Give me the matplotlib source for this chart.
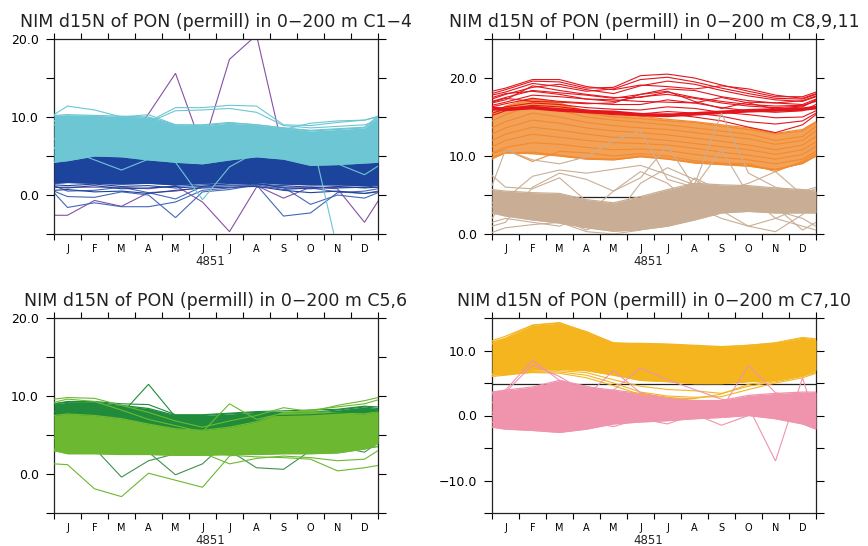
import matplotlib
matplotlib.use('Agg')
import matplotlib.pyplot as plt
import numpy as np

nan = np.nan

# x positions: left edge, twelve mid-month points, right edge
X_POS = [0.0, 0.5, 1.5, 2.5, 3.5, 4.5, 5.5, 6.5, 7.5, 8.5, 9.5, 10.5, 11.5, 12.0]
MONTHS = ['J', 'F', 'M', 'A', 'M', 'J', 'J', 'A', 'S', 'O', 'N', 'D']
YEAR = '4851'
TITLE = 'NIM d15N of PON (permill) in 0\u2212200 m '
GROUPS = ['C1\u22124', 'C8,9,11', 'C5,6', 'C7,10']
REF_LEVEL = 4.8

# ---- panel 1: C1-4 -------------------------------------------------------
cyan_top = [10.2, 10.3, 10.2, 10.1, 10.0, 9.0, 8.9, 9.2, 9.0, 8.6, 8.2, 8.4, 8.6, 10.0]
cyan_bot = [4.2, 4.4, 5.0, 4.9, 4.5, 4.2, 4.0, 4.5, 4.9, 4.6, 3.8, 3.9, 4.1, 4.2]
dblue_top = [5.0, 5.1, 5.5, 5.4, 5.1, 4.9, 4.7, 5.1, 5.4, 5.1, 4.5, 4.6, 4.8, 4.9]
dblue_bot = [1.5, 1.6, 1.5, 1.4, 1.5, 1.3, 1.5, 1.6, 1.6, 1.4, 1.3, 1.3, 1.2, 1.3]
dblue_lines = [
    [1.0, 0.9, 1.2, 0.8, 0.9, 1.1, 1.3, 1.4, 1.5, 0.9, 0.8, 1.1, 0.9, 1.0],
    [0.6, 0.7, 0.4, 0.5, 0.2, 0.6, 0.9, 1.0, 1.1, 0.6, 0.3, 0.5, 0.2, 0.4],
    [1.3, 1.2, 1.4, 1.1, 1.2, 0.9, 1.1, 1.5, 1.4, 1.2, 1.0, 0.9, 1.0, 1.2],
]
cyan_lines = [
    [10.3, 11.4, 10.9, 10.0, 10.3, 9.0, 9.0, 9.3, 9.0, 8.6, 8.3, 8.5, 8.7, 10.1],
    [9.5, 9.8, 10.0, 9.8, 9.4, 11.2, 11.2, 11.5, 11.4, 9.0, 8.9, 9.3, 9.6, 10.0],
    [9.5, 9.6, 9.8, 9.7, 9.3, 10.8, 10.9, 11.1, 10.6, 8.9, 8.6, 8.8, 9.0, 9.5],
    [9.0, 9.2, 9.3, 9.1, 9.0, 8.7, 8.6, 8.9, 8.8, 8.4, 9.2, 9.5, 9.6, 10.1],
    [6.0, 5.8, 4.5, 3.2, 4.6, 5.5, 5.5, 5.7, 5.8, 5.5, 5.3, 5.3, 5.5, 5.8],
    [6.0, 6.0, 6.0, 6.0, 6.0, 6.0, 6.0, 6.0, 6.0, 5.8, 4.5, 4.0, 2.6, 3.7],
    [6.0, 6.0, 6.0, 6.0, 6.0, 4.2, -0.6, 3.6, 5.5, 6.0, 6.0, 6.0, 6.0, 6.0],
    [7.2, 7.0, 7.1, 7.0, 6.9, 6.8, 6.9, 7.0, 7.2, 7.5, 8.0, -7.0, nan, nan],
]
mblue_lines = [
    [0.5, -0.2, -0.3, 0.4, 0.0, -2.9, 0.4, 0.7, 1.3, 0.7, 0.9, 0.4, 0.2, 0.5],
    [0.3, -1.6, -1.0, -1.5, -1.5, -0.9, 0.6, 0.9, 1.3, -2.7, -2.3, 0.3, 0.5, 0.8],
    [1.2, 0.5, 0.6, 1.0, 0.3, -0.5, 1.1, 1.2, 1.4, 1.0, -1.2, 0.0, -0.4, 0.3],
]
purple_lines = [
    [5.0, 5.0, 5.5, 6.0, 10.4, 15.6, 6.0, 5.5, 5.5, 5.5, 5.5, 5.5, 5.5, 5.5],
    [5.0, 5.0, 5.0, 5.0, 5.0, 5.0, 6.0, 17.4, 20.5, 5.5, 5.0, 5.0, 5.0, 5.0],
    [1.0, 1.0, 1.0, 1.0, 0.8, 1.2, -0.9, -4.7, 1.0, 1.0, 1.0, 1.0, 1.0, 1.0],
    [-2.6, -2.6, -0.7, -1.45, 0.3, 0.5, 1.0, 1.2, 1.2, -0.4, 1.0, 0.8, -3.5, -0.8],
]

# ---- panel 2: C8,9,11 ----------------------------------------------------
red_core = [16.1, 16.0, 16.2, 15.9, 15.7, 15.6, 15.3, 15.2, 15.4, 15.6, 15.8, 15.9, 16.0, 16.2]
red_lines = [
    [18.0, 18.5, 19.6, 19.5, 18.7, 18.8, 20.3, 20.5, 20.0, 19.1, 18.3, 17.6, 17.6, 18.2],
    [17.8, 18.2, 19.3, 18.9, 18.3, 18.6, 19.8, 20.1, 19.5, 18.7, 18.0, 17.4, 17.3, 17.9],
    [17.3, 17.9, 18.8, 19.2, 18.5, 18.0, 19.0, 19.6, 19.2, 18.4, 17.7, 17.2, 17.0, 17.6],
    [17.0, 17.5, 18.4, 18.1, 17.8, 17.4, 17.9, 18.6, 18.4, 17.6, 17.1, 16.8, 16.6, 17.3],
    [16.8, 17.2, 19.0, 18.4, 17.9, 17.5, 17.5, 18.2, 17.5, 17.0, 16.6, 16.4, 16.5, 17.0],
    [16.5, 16.9, 17.8, 17.6, 17.3, 17.0, 17.6, 17.9, 17.4, 16.8, 16.4, 16.2, 16.4, 17.1],
    [16.3, 16.7, 17.4, 17.0, 16.8, 16.6, 16.6, 17.2, 16.8, 16.2, 15.8, 15.6, 15.8, 16.6],
    [15.8, 16.3, 16.8, 16.6, 16.2, 16.0, 15.9, 16.3, 16.1, 15.6, 15.3, 14.9, 15.0, 15.8],
    [15.5, 16.0, 16.5, 16.3, 15.9, 15.5, 15.4, 15.7, 15.5, 15.1, 14.4, 14.1, 14.5, 15.5],
    [15.2, 15.8, 16.2, 16.0, 15.6, 15.3, 15.2, 15.4, 15.0, 14.5, 13.7, 13.0, 14.0, 15.3],
    [17.5, 18.0, 18.3, 17.9, 17.3, 17.2, 17.0, 16.9, 16.8, 17.5, 16.8, 16.0, 16.3, 17.2],
    [16.9, 17.4, 17.0, 16.9, 16.7, 16.8, 17.9, 18.3, 17.0, 16.1, 16.9, 16.8, 17.1, 17.7],
    [18.3, 18.7, 19.8, 19.8, 18.9, 18.5, 19.1, 18.9, 18.6, 19.0, 18.6, 17.8, 17.4, 18.0],
]
orange_top = [15.5, 16.4, 17.4, 16.8, 15.7, 15.3, 15.1, 14.7, 14.4, 14.0, 13.6, 12.9, 13.4, 14.4]
orange_bot = [9.8, 10.4, 10.3, 10.0, 9.6, 9.5, 9.9, 9.6, 9.1, 8.9, 8.7, 8.2, 9.1, 10.0]
orange_lines = [
    [15.4, 16.2, 17.3, 16.6, 15.5, 15.0, 14.8, 14.5, 14.3, 13.8, 13.4, 12.8, 13.2, 14.3],
    [14.5, 15.3, 16.5, 15.8, 15.0, 14.6, 14.3, 14.0, 13.6, 13.2, 12.8, 12.0, 12.5, 13.8],
    [13.6, 14.4, 15.5, 15.0, 14.3, 13.9, 13.6, 13.4, 13.0, 12.6, 12.2, 11.5, 12.0, 13.2],
    [12.8, 13.6, 14.6, 14.2, 13.6, 13.2, 13.0, 12.7, 12.3, 11.9, 11.4, 10.8, 11.4, 12.5],
    [12.0, 12.8, 13.7, 13.3, 12.8, 12.4, 12.3, 12.0, 11.6, 11.2, 10.8, 10.2, 10.8, 11.8],
    [11.2, 12.0, 12.8, 12.4, 12.0, 11.7, 11.6, 11.4, 11.0, 10.5, 10.1, 9.6, 10.2, 11.2],
    [10.4, 11.1, 11.7, 11.5, 11.1, 10.8, 10.9, 10.7, 10.2, 9.8, 9.5, 9.0, 9.6, 10.6],
    [9.6, 10.4, 10.5, 10.1, 9.7, 9.6, 10.0, 9.7, 9.2, 9.0, 8.8, 8.3, 9.0, 10.0],
    [10.3, 10.8, 9.3, 10.6, 10.4, 10.0, 10.3, 10.0, 9.4, 9.1, 9.0, 8.0, 9.3, 10.3],
]
tan_top = [5.7, 5.5, 5.3, 5.2, 4.4, 4.0, 4.8, 5.7, 6.5, 6.3, 6.2, 5.9, 5.7, 5.5]
tan_bot = [2.7, 2.3, 1.8, 1.4, 0.8, 0.35, 0.55, 1.0, 1.8, 2.7, 2.9, 2.7, 2.7, 2.7]
tan_lines = [
    [6.2, 10.8, 9.5, 9.0, 9.9, 12.0, 13.2, 7.0, 6.0, 5.0, 4.5, 4.0, 5.5, 6.0],
    [2.0, 4.5, 7.4, 8.2, 7.8, 8.3, 8.8, 7.6, 6.3, 15.5, 7.8, 6.0, 5.2, 5.8],
    [1.0, 1.5, 6.0, 7.8, 7.0, 5.5, 7.2, 11.3, 6.0, 10.8, 5.0, 2.0, 3.5, 4.0],
    [0.2, 0.8, 1.2, 1.5, 0.3, 0.0, 0.5, 3.5, 7.2, 5.5, 6.5, 8.0, 5.0, 3.0],
    [4.0, 4.5, 3.0, 2.0, 0.5, 2.0, 6.5, 8.5, 7.0, 5.0, 4.0, 3.5, 0.5, 1.5],
    [1.5, 2.0, 1.5, 1.0, 2.5, 5.5, 8.0, 6.5, 3.5, 2.0, 1.0, 0.3, 2.5, 4.0],
    [3.5, 3.0, 2.5, 2.0, 1.5, 1.0, 2.5, 4.0, 5.0, 3.0, 1.0, 2.0, 1.0, 0.5],
    [7.5, 6.0, 5.8, 7.2, 4.2, 3.5, 4.5, 5.5, 4.5, 4.0, 3.5, 3.0, 2.0, 1.0],
]

# ---- panel 3: C5,6 -------------------------------------------------------
dgreen_top = [9.0, 9.2, 9.2, 8.8, 8.4, 7.5, 7.5, 7.7, 7.9, 7.9, 7.9, 8.2, 8.6, 8.4]
dgreen_bot = [4.5, 4.5, 4.6, 4.8, 5.0, 5.2, 5.4, 5.0, 4.8, 4.6, 4.5, 4.4, 4.3, 4.3]
lgreen_top = [7.5, 7.7, 7.5, 7.1, 6.4, 5.8, 5.6, 6.0, 6.7, 7.9, 8.0, 7.8, 7.7, 8.0]
lgreen_bot = [3.0, 2.6, 2.6, 2.5, 2.5, 2.4, 2.4, 2.5, 2.5, 2.6, 2.6, 2.7, 3.2, 3.9]
lgreen_lines = [
    [9.6, 9.8, 9.7, 8.8, 7.9, 6.8, 6.0, 6.8, 7.5, 8.5, 8.0, 8.8, 9.4, 9.8],
    [9.2, 9.6, 9.3, 8.2, 7.0, 6.2, 5.4, 9.0, 7.0, 7.8, 8.2, 8.6, 9.0, 9.5],
    [1.3, 1.2, -1.9, -2.9, 0.1, -0.8, -1.7, 2.3, 3.0, 3.0, 3.0, 3.0, 3.2, 3.6],
    [3.0, 3.0, 2.9, 2.8, 2.8, 2.7, 2.7, 2.4, 2.2, 2.1, 1.9, 0.4, 0.8, 1.1],
    [3.2, 3.0, 2.8, 2.8, 2.7, 2.6, 2.7, 1.3, 2.0, 2.3, 2.1, 1.7, 1.9, 3.0],
]
dgreen_lines = [
    [9.0, 9.3, 9.3, 9.0, 8.9, 7.6, 7.6, 7.8, 8.0, 8.1, 8.2, 8.3, 8.7, 8.6],
    [8.0, 8.2, 8.0, 7.7, 11.5, 7.3, 7.0, 7.2, 7.5, 7.5, 7.6, 7.8, 8.0, 8.1],
]
mgreen_lines = [
    [3.5, 3.4, 3.3, -0.4, 1.7, 2.6, 2.8, 2.9, 3.0, 3.0, 3.0, 3.1, 3.3, 3.5],
    [4.0, 4.0, 3.8, 3.5, 2.8, -0.1, 1.3, 4.5, 4.0, 3.5, 3.5, 3.5, 3.8, 4.0],
    [4.0, 4.0, 4.0, 3.8, 3.5, 3.3, 3.2, 3.0, 0.8, 0.6, 3.0, 3.5, 2.8, 4.0],
]

# ---- panel 4: C7,10 ------------------------------------------------------
yellow_top = [11.3, 11.9, 13.9, 14.2, 12.9, 11.1, 11.1, 11.0, 10.8, 10.6, 10.8, 11.1, 11.9, 11.6]
yellow_bot = [6.4, 6.4, 7.0, 7.1, 6.9, 6.2, 5.4, 5.2, 4.9, 4.9, 5.2, 5.4, 6.2, 7.0]
yellow_lines = [
    [11.5, 12.2, 13.9, 14.3, 12.8, 11.2, 11.0, 10.9, 10.7, 10.5, 10.8, 11.2, 12.0, 11.8],
    [11.0, 11.8, 13.3, 13.6, 12.6, 11.0, 10.9, 10.8, 10.5, 10.4, 10.6, 11.0, 11.6, 11.5],
    [6.2, 6.3, 6.8, 6.9, 6.6, 5.5, 4.5, 4.0, 3.8, 3.4, 4.5, 5.2, 6.0, 6.8],
    [6.0, 6.2, 6.7, 6.7, 6.2, 5.0, 3.6, 3.0, 2.8, 2.9, 4.0, 5.0, 5.8, 6.5],
    [6.3, 6.3, 6.6, 6.5, 5.8, 4.6, 3.2, 2.7, 2.6, 3.3, 4.8, 5.4, 6.1, 6.6],
]
pink_top = [3.6, 3.9, 4.4, 5.4, 4.4, 3.9, 3.4, 2.8, 2.3, 2.3, 3.1, 3.4, 3.6, 3.6]
pink_bot = [-1.8, -2.1, -2.3, -2.6, -2.1, -1.3, -1.0, -0.8, -0.5, -0.3, 0.0, -0.5, -1.3, -2.1]
pink_lines = [
    [3.5, 3.9, 8.5, 5.4, 4.5, 3.5, 3.0, 2.5, 2.0, 2.0, 2.5, 3.0, 3.2, 3.5],
    [3.3, 3.6, 7.8, 6.0, 3.5, 3.2, 3.0, 2.6, 2.2, 2.2, 2.6, 2.9, 3.0, 3.4],
    [2.0, 2.5, 3.0, 3.5, 3.0, 3.9, 7.3, 5.5, 4.0, 2.5, 2.0, 2.0, 2.5, 3.0],
    [0.0, 0.5, 1.0, 1.5, 2.0, 1.5, 2.0, 2.0, 1.5, 1.0, 7.7, 3.5, 2.5, 2.0],
    [0.5, 0.3, 0.5, 1.0, 1.0, 1.0, 1.0, 1.5, 1.5, 1.0, 1.3, -7.0, 5.8, -0.8],
    [-1.0, -1.2, -1.5, -1.8, -1.0, -1.7, -0.5, -1.3, 0.2, -1.5, 0.0, 0.0, -0.5, -1.0],
    [2.0, 2.0, 2.5, 3.0, 3.0, 6.9, 3.5, 2.5, 2.0, 2.0, 2.0, 2.0, 2.0, 2.0],
]

CYAN, DBLUE, MBLUE, PURPLE = '#6dc6d3', '#1d449c', '#4568b6', '#8650a6'
RED, ORANGE, TAN = '#e3161d', '#f28a2e', '#c9ae95'
DGREEN, LGREEN, MGREEN = '#1f8b3b', '#6cb830', '#3f9150'
YELLOW, PINK = '#f4b51e', '#f093ad'


def band(ax, bot, top, color, z, alpha=1.0):
    ax.fill_between(X_POS, bot, top, color=color, lw=0, zorder=z, alpha=alpha)
    ax.plot(X_POS, bot, color=color, lw=0.9, zorder=z)
    ax.plot(X_POS, top, color=color, lw=0.9, zorder=z)


def lines(ax, series, color, z, lw=0.8):
    for s in series:
        ax.plot(X_POS, s, color=color, lw=lw, zorder=z, solid_joinstyle='miter')


def style(ax, ymin, ymax, group):
    ax.set_xlim(0, 12)
    ax.set_ylim(ymin, ymax)
    ax.set_xticks(np.arange(13))
    ax.set_xticklabels([])
    ax.set_xticks(np.arange(12) + 0.5, minor=True)
    ax.set_xticklabels(MONTHS, minor=True)
    ax.tick_params(axis='x', which='major', direction='out', length=4.5,
                   width=0.8, top=True, bottom=True)
    ax.tick_params(axis='x', which='minor', length=0, labelsize=7, pad=7.5)
    yt = np.arange(ymin, ymax + 1, 5)
    ax.set_yticks(yt)
    ax.set_yticklabels([f'{v:.1f}'.replace('-', '\u2212') if v % 10 == 0 else ''
                        for v in yt])
    ax.tick_params(axis='y', direction='out', length=5.5, width=0.8,
                   left=True, right=True, labelsize=9, pad=5.5)
    for sp in ax.spines.values():
        sp.set_linewidth(0.9)
        sp.set_color('#222222')
    ax.axhline(REF_LEVEL, color='#222222', lw=0.9, zorder=1)
    ax.text(0.5, 1 + 12 / 195, TITLE + group, transform=ax.transAxes,
            ha='center', va='baseline', fontsize=12.5, color='#222222')
    ax.text(0.482, -27.5 / 195, YEAR, transform=ax.transAxes,
            ha='center', va='center', fontsize=8.5, color='#222222')


plt.rcParams['font.family'] = ['DejaVu Sans']
fig = plt.figure(figsize=(8.68, 5.46), dpi=100)
w, h = 324 / 868, 195 / 546
ax1 = fig.add_axes([54 / 868, 1 - 234 / 546, w, h])
ax2 = fig.add_axes([492 / 868, 1 - 234 / 546, w, h])
ax3 = fig.add_axes([54 / 868, 1 - 513 / 546, w, h])
ax4 = fig.add_axes([492 / 868, 1 - 513 / 546, w, h])

# panel 1
lines(ax1, purple_lines, PURPLE, 2)
lines(ax1, mblue_lines, MBLUE, 2)
band(ax1, dblue_bot, dblue_top, DBLUE, 3)
lines(ax1, dblue_lines, DBLUE, 3)
band(ax1, cyan_bot, cyan_top, CYAN, 4)
lines(ax1, cyan_lines, CYAN, 5)
style(ax1, -5, 20, GROUPS[0])

# panel 2
band(ax2, tan_bot, tan_top, TAN, 3)
band(ax2, orange_bot, orange_top, ORANGE, 3, alpha=0.8)
lines(ax2, orange_lines, ORANGE, 4)
lines(ax2, red_lines, RED, 5)
ax2.plot(X_POS, red_core, color=RED, lw=2.6, zorder=5)
lines(ax2, tan_lines, TAN, 6)
style(ax2, 0, 25, GROUPS[1])

# panel 3
lines(ax3, mgreen_lines, MGREEN, 2)
band(ax3, dgreen_bot, dgreen_top, DGREEN, 3)
band(ax3, lgreen_bot, lgreen_top, LGREEN, 4)
lines(ax3, dgreen_lines, DGREEN, 4)
lines(ax3, lgreen_lines, LGREEN, 5)
style(ax3, -5, 20, GROUPS[2])

# panel 4
band(ax4, pink_bot, pink_top, PINK, 3)
band(ax4, yellow_bot, yellow_top, YELLOW, 4)
lines(ax4, yellow_lines, YELLOW, 4)
lines(ax4, pink_lines, PINK, 5)
style(ax4, -15, 15, GROUPS[3])

fig.savefig('out.png', dpi=100)
